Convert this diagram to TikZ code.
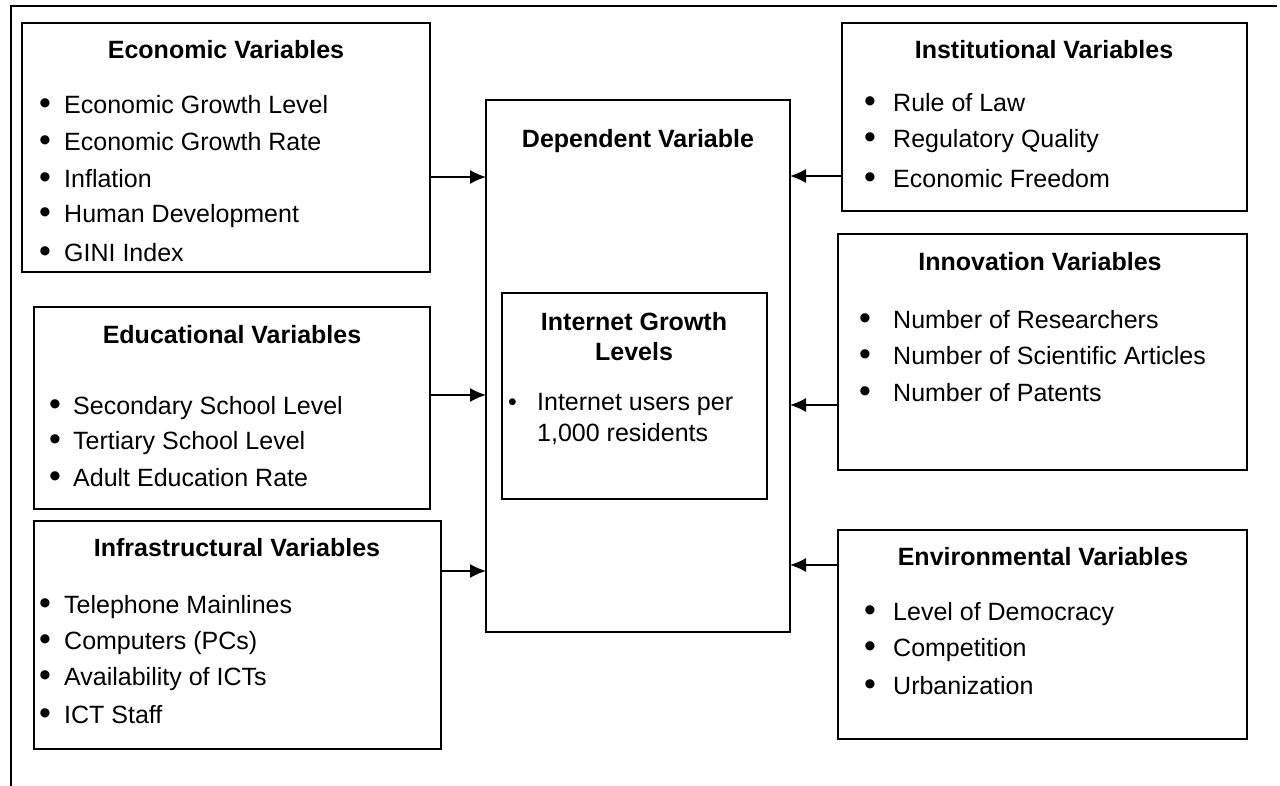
\documentclass[tikz,border=0pt]{standalone}
\usepackage{fontspec}
\setmainfont{Liberation Sans}
\usetikzlibrary{arrows.meta}

\newcommand{\Bul}[1]{\makebox[#1][l]{\raisebox{-1pt}{\scalebox{1.35}{\textbullet}}}}

\begin{document}
\begin{tikzpicture}[x=1pt,y=-1pt]
  \tikzset{BoxStyle/.style = {
    shape         = rectangle,
    draw          = black,
    fill          = white,
    line width    = 1.6pt,
    inner sep     = 0pt,
    outer sep     = 0pt
    }
  }
  \tikzset{TitleStyle/.style = {
    font          = \fontsize{25}{30}\selectfont\bfseries,
    inner sep     = 0pt,
    align         = center
    }
  }
  \tikzset{ItemStyle/.style = {
    font          = \fontsize{25}{30}\selectfont,
    inner sep     = 0pt,
    anchor        = west
    }
  }
  \tikzset{ArrowStyle/.style = {
    draw          = black,
    line width    = 1.4pt,
    -{Latex[length=16pt,width=14pt]}
    }
  }

  \useasboundingbox (0,0) rectangle (1280,786);
  \fill[white] (0,0) rectangle (1280,786);
  % outer frame (top and left side only)
  \draw[line width=1.6pt] (11,786) -- (11,6) -- (1277,6);

  % boxes
  \node[BoxStyle, minimum width=408, minimum height=249](econ)  at (226,147.5) {};
  \node[BoxStyle, minimum width=405, minimum height=188](inst)  at (1044.5,117) {};
  \node[BoxStyle, minimum width=304, minimum height=532](dep)   at (638,366) {};
  \node[BoxStyle, minimum width=265, minimum height=206](inet)  at (634.5,396) {};
  \node[BoxStyle, minimum width=396, minimum height=202](educ)  at (232,408) {};
  \node[BoxStyle, minimum width=407, minimum height=228](infra) at (237.5,635) {};
  \node[BoxStyle, minimum width=409, minimum height=236](innov) at (1042.5,352) {};
  \node[BoxStyle, minimum width=409, minimum height=209](env)   at (1042.5,634.5) {};

  % titles
  \node[TitleStyle](T1) at (226,50)  {Economic Variables};
  \node[TitleStyle](T2) at (1044,50) {Institutional Variables};
  \node[TitleStyle](T3) at (638,141) {Dependent Variable};
  \node[TitleStyle](T4) at (634,337) {Internet Growth\\Levels};
  \node[TitleStyle](T5) at (1040,262) {Innovation Variables};
  \node[TitleStyle](T6) at (232,335) {Educational Variables};
  \node[TitleStyle](T7) at (237,548) {Infrastructural Variables};
  \node[TitleStyle](T8) at (1043,557) {Environmental Variables};

  % item lists
  \foreach \t [count=\i] in {Economic Growth Level, Economic Growth Rate,
      Inflation, Human Development, GINI Index}
    \node[ItemStyle](E\i) at (39,68+37*\i) {\Bul{25pt}\t};
  \foreach \t [count=\i] in {Rule of Law, Regulatory Quality, Economic Freedom}
    \node[ItemStyle](I\i) at (864,65+38*\i) {\Bul{29pt}\t};
  \foreach \t [count=\i] in {Number of Researchers, Number of Scientific Articles,
      Number of Patents}
    \node[ItemStyle](N\i) at (859,283+36.5*\i) {\Bul{34pt}\t};
  \foreach \t [count=\i] in {Secondary School Level, Tertiary School Level,
      Adult Education Rate}
    \node[ItemStyle](D\i) at (49,373+35*\i) {\Bul{24pt}\t};
  \foreach \t [count=\i] in {Telephone Mainlines, Computers (PCs),
      Availability of ICTs, ICT Staff}
    \node[ItemStyle](F\i) at (39,571+36*\i) {\Bul{25pt}\t};
  \foreach \t [count=\i] in {Level of Democracy, Competition, Urbanization}
    \node[ItemStyle](V\i) at (864,578+36*\i) {\Bul{29pt}\t};

  \node[ItemStyle](U1) at (508,404) {\makebox[29pt][l]{\textbullet}Internet users per};
  \node[ItemStyle](U2) at (537,434) {1,000 residents};

  % arrows into the dependent variable
  \coordinate (y1) at (0,177);
  \coordinate (y2) at (0,176);
  \coordinate (y3) at (0,395);
  \coordinate (y4) at (0,405);
  \coordinate (y5) at (0,571);
  \coordinate (y6) at (0,565);
  \draw[ArrowStyle](econ.east  |- y1) to (dep.west |- y1);
  \draw[ArrowStyle](inst.west  |- y2) to (dep.east |- y2);
  \draw[ArrowStyle](educ.east  |- y3) to (dep.west |- y3);
  \draw[ArrowStyle](innov.west |- y4) to (dep.east |- y4);
  \draw[ArrowStyle](infra.east |- y5) to (dep.west |- y5);
  \draw[ArrowStyle](env.west   |- y6) to (dep.east |- y6);

\end{tikzpicture}
\end{document}
